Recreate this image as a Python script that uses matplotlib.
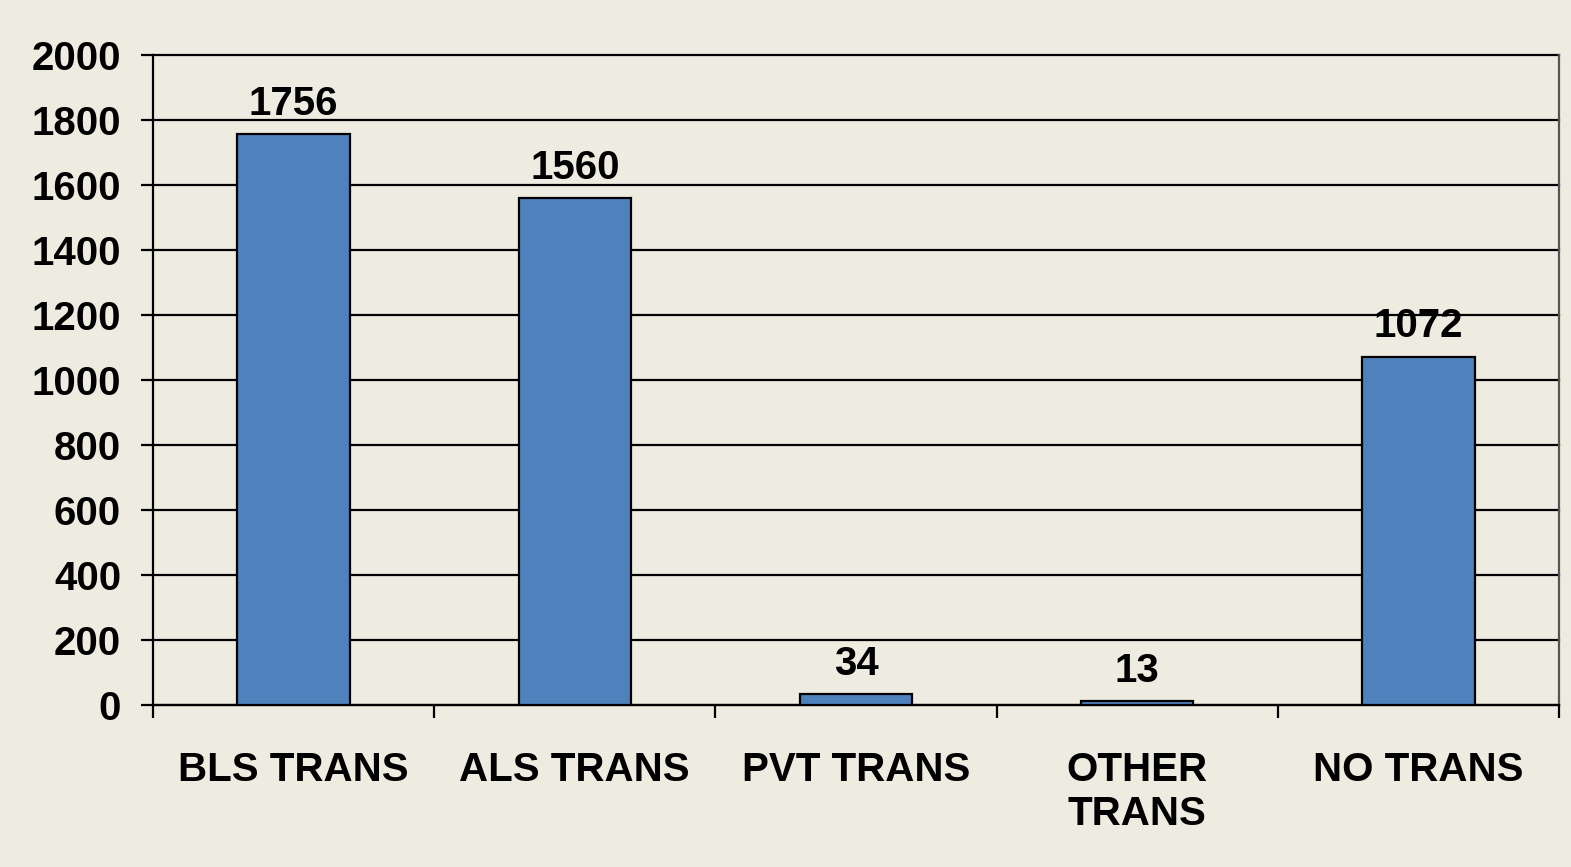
import matplotlib
matplotlib.use("Agg")
import matplotlib.pyplot as plt
import numpy as np

categories = ["BLS TRANS", "ALS TRANS", "PVT TRANS", "OTHER\nTRANS", "NO TRANS"]
values = [1756, 1560, 34, 13, 1072]
yticks = [0, 200, 400, 600, 800, 1000, 1200, 1400, 1600, 1800, 2000]

bg = "#EEECE1"
bar_color = "#4F81BD"

plt.rcParams['font.family'] = ['Liberation Sans', 'DejaVu Sans']
plt.rcParams['font.weight'] = 'bold'

FS = 29

fig = plt.figure(figsize=(15.71, 8.67), dpi=100, facecolor=bg)
ax = fig.add_axes([153/1571, 1-705/867, (1559-153)/1571, (705-55)/867])
ax.set_facecolor(bg)

x = np.arange(len(categories))
ax.bar(x, values, width=0.4, color=bar_color, edgecolor="black", linewidth=1.6, zorder=3)

for xi, v in zip(x, values):
    ax.annotate(str(v), (xi, v), xytext=(0, 8), textcoords="offset points",
                ha="center", va="bottom", fontsize=FS, fontweight="bold")

ax.set_xlim(-0.5, len(categories) - 0.5)
ax.set_ylim(0, 2000)
ax.set_yticks(yticks)
ax.set_yticklabels([str(t) for t in yticks], fontsize=FS, fontweight="bold")
ax.yaxis.grid(True, color="black", linewidth=1.6, zorder=1)
ax.set_axisbelow(True)

ax.set_xticks(np.arange(len(categories) + 1) - 0.5)
ax.set_xticklabels([])
ax.set_xticks(x, minor=True)
ax.set_xticklabels(categories, minor=True, fontsize=FS, fontweight="bold", linespacing=1.2)
ax.tick_params(axis="x", which="minor", length=0, pad=33)
ax.tick_params(axis="x", which="major", length=9, width=1.6, direction="out")
ax.tick_params(axis="y", length=9, width=1.6, direction="out", pad=14)

ax.spines["top"].set_visible(False)
ax.spines["left"].set_linewidth(1.6)
ax.spines["bottom"].set_linewidth(1.6)
ax.spines["right"].set_color("#555555")
ax.spines["right"].set_linewidth(1.6)

for gl in ax.get_ygridlines():
    gl.set_clip_on(False)

fig.savefig("out.png", dpi=100, facecolor=bg)
